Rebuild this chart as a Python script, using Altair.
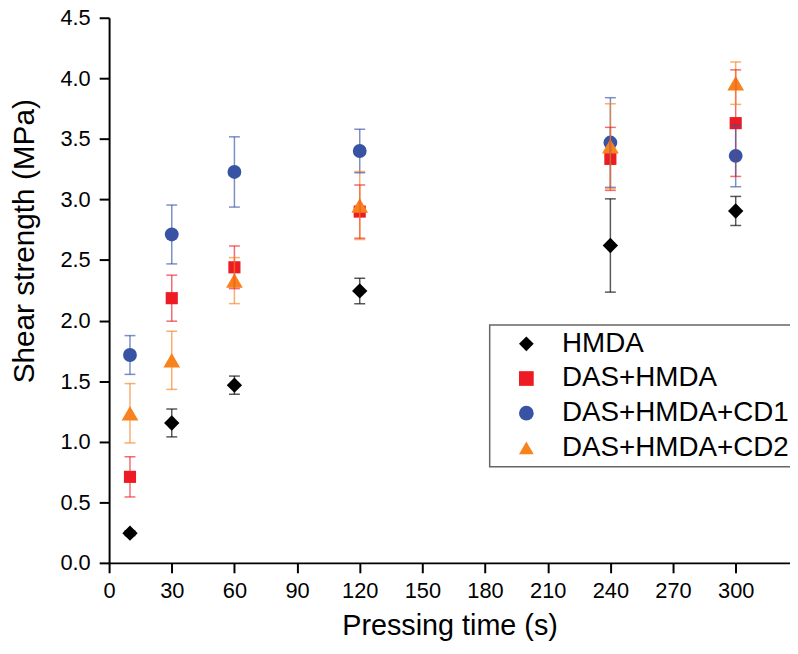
import altair as alt
import pandas as pd

times = [10, 30, 60, 120, 240, 300]
series = ["HMDA", "DAS+HMDA", "DAS+HMDA+CD1", "DAS+HMDA+CD2"]
means = {
    "HMDA":         [0.245, 1.155, 1.467, 2.245, 2.62, 2.905],
    "DAS+HMDA":     [0.71, 2.185, 2.44, 2.90, 3.335, 3.63],
    "DAS+HMDA+CD1": [1.716, 2.711, 3.227, 3.40, 3.47, 3.36],
    "DAS+HMDA+CD2": [1.235, 1.672, 2.33, 2.95, 3.44, 3.96],
}
errors = {
    "HMDA":         [0.02, 0.115, 0.075, 0.105, 0.385, 0.12],
    "DAS+HMDA":     [0.166, 0.19, 0.176, 0.22, 0.26, 0.44],
    "DAS+HMDA+CD1": [0.16, 0.243, 0.29, 0.18, 0.37, 0.255],
    "DAS+HMDA+CD2": [0.245, 0.24, 0.19, 0.28, 0.35, 0.175],
}
colors = ["#000000", "#ED1C24", "#3953A4", "#F7821E"]
shapes = ["diamond", "square", "circle", "triangle-up"]
# marker size rank (small -> large) and size range
size_order = ["DAS+HMDA", "DAS+HMDA+CD1", "HMDA", "DAS+HMDA+CD2"]
size_range = [150, 285]
x_ticks = [0, 30, 60, 90, 120, 150, 180, 210, 240, 270, 300]
y_ticks = [0.0, 0.5, 1.0, 1.5, 2.0, 2.5, 3.0, 3.5, 4.0, 4.5]

rows = []
for si, s in enumerate(series):
    for t, m, e in zip(times, means[s], errors[s]):
        rows.append({"series": s, "order": si, "time": t, "mean": m,
                     "lo": m - e, "hi": m + e})
df = pd.DataFrame(rows)

font = "Liberation Sans"

xscale = alt.Scale(domain=[0, 326], nice=False, zero=False)
yscale = alt.Scale(domain=[0, 4.5], nice=False)

x_axis = alt.Axis(values=x_ticks, title="Pressing time (s)", grid=False,
                  domainColor="black", domainWidth=2, tickColor="black",
                  tickWidth=2, tickSize=10, labelFontSize=22, labelFont=font,
                  labelColor="black", labelPadding=8, titleFont=font,
                  titleFontSize=29, titleFontWeight="normal", titleColor="black",
                  titleY=72, titleBaseline="alphabetic", labelFlush=False)
y_axis = alt.Axis(values=y_ticks, format=".1f", title="Shear strength (MPa)",
                  grid=False, domainColor="black", domainWidth=2,
                  tickColor="black", tickWidth=2, tickSize=10,
                  labelFontSize=22, labelFont=font, labelColor="black",
                  labelPadding=9, titleFont=font, titleFontSize=30,
                  titleFontWeight="normal", titleColor="black",
                  titleY=225, titleX=-85, titleBaseline="middle",
                  labelFlush=False)

color_enc = alt.Color("series:N", scale=alt.Scale(domain=series, range=colors),
                      legend=None)

base = alt.Chart(df)

points = base.mark_point(filled=True, opacity=1, strokeWidth=0).encode(
    x=alt.X("time:Q", scale=xscale, axis=x_axis),
    y=alt.Y("mean:Q", scale=yscale, axis=y_axis),
    color=alt.Color("series:N", scale=alt.Scale(domain=series, range=colors),
                    legend=alt.Legend(title=None, orient="none", legendX=384,
                                      legendY=310, padding=5,
                                      labelFontSize=28, labelFont=font,
                                      labelColor="black", symbolOffset=18,
                                      labelOffset=22, rowPadding=7,
                                      symbolSize=220, symbolStrokeWidth=0)),
    shape=alt.Shape("series:N", scale=alt.Scale(domain=series, range=shapes)),
    size=alt.Size("series:N", scale=alt.Scale(type="point", domain=size_order,
                                              range=size_range, padding=0),
                  legend=None),
    order=alt.Order("order:Q"),
)

bars = base.mark_rule(strokeWidth=1.5, opacity=0.65).encode(
    x="time:Q", y="lo:Q", y2="hi:Q", color=color_enc,
)
caps_hi = base.mark_tick(orient="horizontal", size=11, thickness=1.5,
                         opacity=0.65).encode(
    x="time:Q", y="hi:Q", color=color_enc,
)
caps_lo = base.mark_tick(orient="horizontal", size=11, thickness=1.5,
                         opacity=0.65).encode(
    x="time:Q", y="lo:Q", color=color_enc,
)

chart = alt.layer(points, bars, caps_hi, caps_lo).properties(
    width=687, height=550,
    autosize=alt.AutoSizeParams(type="none"),
    padding={"left": 102, "top": 7, "right": 0, "bottom": 77},
    background="white",
).configure_view(stroke=None).configure_legend(
    labelLimit=400, strokeColor="#666666", strokeWidth=1.5
)

chart.save("out.html", embed_options={"renderer": "svg", "actions": False})
